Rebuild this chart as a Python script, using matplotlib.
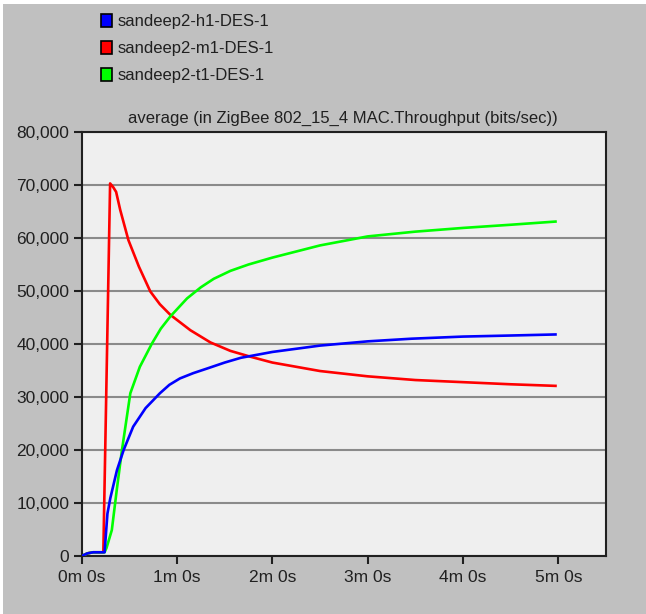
import numpy as np
import matplotlib
matplotlib.use("Agg")
import matplotlib.pyplot as plt
from matplotlib.patches import Patch, Rectangle
from matplotlib.ticker import FuncFormatter

plt.rcParams['font.family'] = ['Liberation Sans', 'DejaVu Sans']

# throughput averages, time in minutes
t_h1 = [0.00, 0.06, 0.12, 0.24, 0.27, 0.30, 0.37, 0.44, 0.54, 0.67, 0.82, 0.92, 1.03, 1.17, 1.32, 1.50, 1.67, 2.00, 2.50, 3.00, 3.46, 4.00, 4.50, 4.97]
v_h1 = [0, 500, 700, 700, 8000, 10900, 16200, 20000, 24400, 27900, 30700, 32300, 33500, 34500, 35400, 36500, 37400, 38500, 39700, 40500, 41000, 41400, 41600, 41800]

t_m1 = [0.00, 0.06, 0.12, 0.227, 0.298, 0.33, 0.361, 0.404, 0.49, 0.60, 0.72, 0.82, 0.93, 1.14, 1.35, 1.56, 1.77, 2.00, 2.50, 3.00, 3.50, 4.00, 4.50, 4.97]
v_m1 = [0, 500, 700, 700, 70300, 69600, 68700, 65300, 59600, 54600, 49900, 47500, 45500, 42600, 40300, 38700, 37600, 36500, 34900, 33900, 33200, 32800, 32400, 32100]

t_t1 = [0.00, 0.06, 0.12, 0.24, 0.26, 0.316, 0.368, 0.42, 0.51, 0.61, 0.737, 0.83, 0.93, 1.105, 1.25, 1.385, 1.56, 1.75, 2.00, 2.50, 3.00, 3.50, 4.00, 4.50, 4.97]
v_t1 = [0, 500, 700, 700, 1500, 4900, 12500, 19700, 30700, 35700, 40100, 42900, 45200, 48600, 50700, 52300, 53800, 55000, 56300, 58600, 60300, 61200, 61900, 62500, 63100]

labels = ['sandeep2-h1-DES-1', 'sandeep2-m1-DES-1', 'sandeep2-t1-DES-1']
colors = ['#0000ff', '#ff0000', '#00ff00']
title = 'average (in ZigBee 802_15_4 MAC.Throughput (bits/sec))'

fig = plt.figure(figsize=(6.46, 6.14), dpi=100, facecolor='white')
# grey panel with a thin white margin at top and left
fig.add_artist(Rectangle((3 / 646, 0), 1, 1 - 4 / 614, transform=fig.transFigure,
                         facecolor='#c0c0c0', edgecolor='none', zorder=-10))

ax = fig.add_axes([81.7 / 646, 58 / 614, 524.3 / 646, 424 / 614])
ax.set_facecolor('#efefef')

series = [(t_h1, v_h1), (t_m1, v_m1), (t_t1, v_t1)]
# draw order: red under blue near zero
for i in [1, 2, 0]:
    t, v = series[i]
    ax.plot(t, v, color=colors[i], lw=1.9, zorder=3)

ax.set_xlim(0, 5.5)
ax.set_ylim(0, 80000)
ax.set_yticks(np.arange(0, 80001, 10000))
ax.set_xticks(np.arange(0, 6))
ax.yaxis.set_major_formatter(FuncFormatter(lambda v, p: f'{int(v):,}'))
ax.xaxis.set_major_formatter(FuncFormatter(lambda v, p: f'{int(v)}m 0s'))
ax.grid(axis='y', color='#8a8a8a', lw=1.5, zorder=1)
ax.set_axisbelow(True)
for s in ax.spines.values():
    s.set_linewidth(1.5)
    s.set_color('#202020')
ax.tick_params(axis='both', direction='out', length=6, width=1.5, color='#202020',
               labelsize=12.5, labelcolor='#202020')
ax.tick_params(axis='y', pad=3)
ax.tick_params(axis='x', pad=4)

fig.text(343 / 646, 1 - 118 / 614, title, ha='center', va='center', fontsize=12, color='#202020')

handles = [Patch(facecolor=c, edgecolor='black', lw=1.2) for c in colors]
fig.legend(handles, labels, loc='upper left', bbox_to_anchor=(101 / 646, 1 - 14 / 614),
           frameon=False, fontsize=12, handlelength=0.63, handleheight=0.78,
           handletextpad=0.38, labelspacing=0.72, borderpad=0, borderaxespad=0,
           labelcolor='#202020')

fig.savefig('out.png', dpi=100, facecolor=fig.get_facecolor())
